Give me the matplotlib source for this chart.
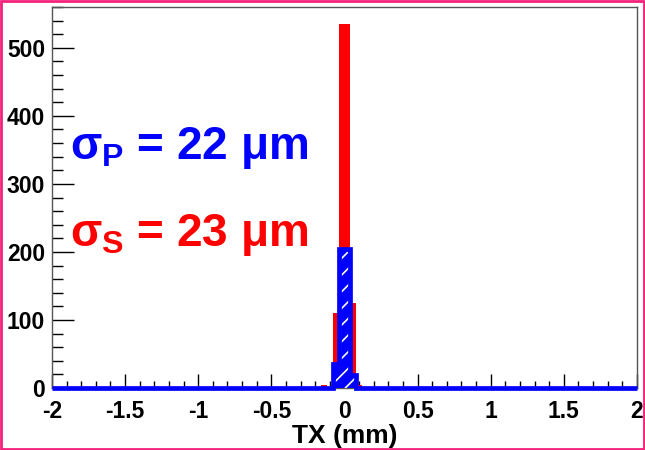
#!/usr/bin/env python3
'''
TX residuals for the P and S views, 100 bins over [-2, 2] mm
'''
import numpy as np
import matplotlib
matplotlib.use('Agg')
import matplotlib.pyplot as plt
from matplotlib.patches import Rectangle

# bin layout: 100 bins of 0.04 mm
x_lo, x_hi, n_bins = -2.0, 2.0, 100

# non-empty bins: lower edge (mm) -> entries
s_edges_lo = [-0.16, -0.12, -0.08, -0.04, 0.00, 0.04, 0.08]
s_counts = [5, 2, 110, 535, 535, 125, 5]
p_edges_lo = [-0.08, -0.04, 0.00, 0.04]
p_counts = [35, 205, 205, 19]

sigma_p_text = r'$\sigma_{\mathrm{P}}$ = 22 $\mu$m'
sigma_s_text = r'$\sigma_{\mathrm{S}}$ = 23 $\mu$m'

plt.rcParams['font.family'] = ['Liberation Sans', 'DejaVu Sans']
plt.rcParams['font.weight'] = 'bold'
plt.rcParams['mathtext.fontset'] = 'custom'
plt.rcParams['mathtext.rm'] = 'Liberation Sans:bold'
plt.rcParams['mathtext.it'] = 'Liberation Sans:bold'
plt.rcParams['mathtext.bf'] = 'Liberation Sans:bold'
plt.rcParams['hatch.linewidth'] = 1.2


def fill_bins(lows, counts):
    '''Doc'''
    edges = np.linspace(x_lo, x_hi, n_bins + 1)
    vals = np.zeros(n_bins)
    for lo, c in zip(lows, counts):
        i = int(round((lo - x_lo) / 0.04))
        vals[i] = c
    return edges, vals


edges, s_vals = fill_bins(s_edges_lo, s_counts)
_, p_vals = fill_bins(p_edges_lo, p_counts)

fig = plt.figure(figsize=(6.45, 4.5), dpi=100)
ax = fig.add_axes([52 / 645, 1 - 388 / 450, 585 / 645, 381 / 450])

# S view: solid red
ax.stairs(s_vals, edges, fill=True, facecolor='#ff0000', edgecolor='#ff0000',
          linewidth=0, zorder=2)

# P view: blue with white hatch, then thick outline
ax.stairs(p_vals, edges, fill=True, facecolor='#0000ff', edgecolor='white',
          hatch='//', linewidth=0, zorder=3)
ax.stairs(p_vals, edges, color='#0000ff', linewidth=3.4, zorder=4,
          clip_on=False)

ax.set_xlim(x_lo, x_hi)
ax.set_ylim(0, 560)
ax.set_xticks(np.arange(-2, 2.01, 0.5))
ax.set_xticklabels(['-2', '-1.5', '-1', '-0.5', '0', '0.5', '1', '1.5', '2'])
ax.set_xticks(np.arange(-2, 2.01, 0.1), minor=True)
ax.set_yticks(np.arange(0, 501, 100))
ax.set_yticks(np.arange(0, 561, 20), minor=True)

ax.tick_params(axis='both', which='both', direction='in', labelsize=16.5,
               color='black', width=1)
ax.tick_params(axis='x', which='major', length=10, pad=9)
ax.tick_params(axis='x', which='minor', length=5)
ax.tick_params(axis='y', which='major', length=16, pad=5)
ax.tick_params(axis='y', which='minor', length=8)
for lab in ax.get_xticklabels() + ax.get_yticklabels():
    lab.set_fontweight('bold')

for sp in ax.spines.values():
    sp.set_color('#555555')
    sp.set_linewidth(1)

ax.set_xlabel('TX (mm)', fontsize=19, fontweight='bold', labelpad=0)

ax.text(-1.877, 337, sigma_p_text, color='#0000ff', fontsize=33,
        va='baseline', ha='left')
ax.text(-1.877, 209, sigma_s_text, color='#ff0000', fontsize=33,
        va='baseline', ha='left')

# outer frame
fig.patches.append(Rectangle((0.002, 0.003), 0.996, 0.994,
                             transform=fig.transFigure, fill=False,
                             edgecolor='#f5207a', linewidth=2))

fig.savefig('out.png', dpi=100)
